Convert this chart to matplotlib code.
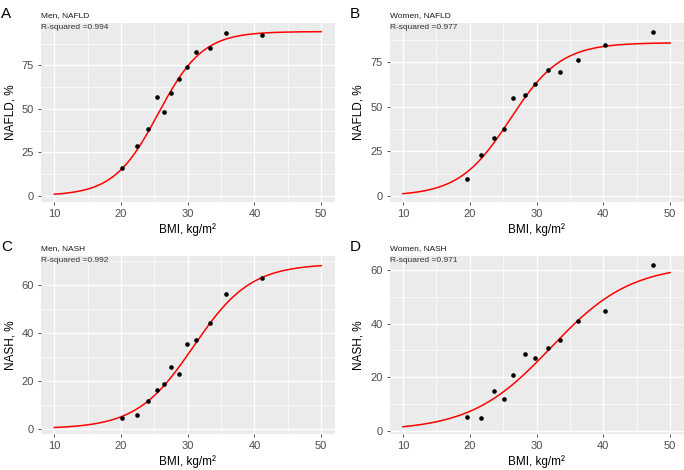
"""
Four-panel BMI vs NAFLD / NASH prevalence figure with logistic fit curves,
ggplot-grey style, laid out on a 684x470 px canvas.
"""

import matplotlib
matplotlib.use("Agg")
import matplotlib.pyplot as plt
import numpy as np

plt.rcParams["font.family"] = ["Liberation Sans", "DejaVu Sans"]

# --- data -------------------------------------------------------------------
men_bmi = [20.2, 22.45, 24.05, 25.4, 26.45, 27.55, 28.7, 29.85, 31.3, 33.35, 35.8, 41.1]
women_bmi = [19.55, 21.75, 23.65, 25.15, 26.55, 28.25, 29.85, 31.7, 33.55, 36.15, 40.2, 47.4]

men_nafld = [15.7, 28.6, 38.4, 56.6, 48.1, 59.3, 67.1, 73.9, 82.5, 85.2, 93.6, 92.3]
women_nafld = [9.7, 22.9, 32.5, 37.5, 54.9, 56.5, 62.7, 70.5, 69.2, 75.9, 84.7, 92.0]
men_nash = [4.6, 5.6, 11.6, 16.3, 18.8, 25.8, 22.9, 35.4, 37.3, 44.2, 56.2, 63.2]
women_nash = [5.0, 4.9, 14.9, 12.0, 20.8, 28.6, 27.3, 31.0, 33.7, 41.1, 44.6, 62.0]

# fitted logistic parameters (asymptote, midpoint, scale)
fit_men_nafld = [94.4, 25.57, 3.34]
fit_women_nafld = [85.8, 26.04, 3.81]
fit_men_nash = [69.0, 30.88, 4.27]
fit_women_nash = [62.0, 32.14, 5.99]

panels = [
    # letter, subtitle, r2, x, y, fit, ylabel, yticks, yminor, ylim, rect(px: l, t, r, b)
    ("A", "Men, NAFLD", "0.994", men_bmi, men_nafld, fit_men_nafld, "NAFLD, %",
     [0, 25, 50, 75], [12.5, 37.5, 62.5, 87.5], (-3.6, 99.5), (41, 22.7, 334.5, 202)),
    ("B", "Women, NAFLD", "0.977", women_bmi, women_nafld, fit_women_nafld, "NAFLD, %",
     [0, 25, 50, 75], [12.5, 37.5, 62.5, 87.5], (-3.4, 97.0), (389.5, 22.7, 683.5, 202)),
    ("C", "Men, NASH", "0.992", men_bmi, men_nash, fit_men_nash, "NASH, %",
     [0, 20, 40, 60], [10, 30, 50, 70], (-2.2, 72.4), (41, 255.7, 334.5, 434)),
    ("D", "Women, NASH", "0.971", women_bmi, women_nash, fit_women_nash, "NASH, %",
     [0, 20, 40, 60], [10, 30, 50], (-1.2, 65.3), (389.5, 255.7, 683.5, 434)),
]

W, H = 684, 470
fig = plt.figure(figsize=(W / 100, H / 100), dpi=100)

xfit = np.linspace(10, 50, 300)

for letter, sub, r2, xs, ys, fit, ylab, yt, ymin, ylim, (l, t, r, b) in panels:
    ax = fig.add_axes([l / W, 1 - b / H, (r - l) / W, (b - t) / H])
    ax.set_facecolor("#EBEBEB")
    for s in ax.spines.values():
        s.set_visible(False)

    ax.set_xlim(8, 52)
    ax.set_ylim(*ylim)
    ax.set_xticks([10, 20, 30, 40, 50])
    ax.set_xticks([15, 25, 35, 45], minor=True)
    ax.set_yticks(yt)
    ax.set_yticks(ymin, minor=True)
    ax.grid(which="major", color="white", lw=1.0)
    ax.grid(which="minor", color="white", lw=0.5)
    ax.set_axisbelow(True)
    ax.tick_params(which="major", length=2.5, width=0.6, color="#333333",
                   labelcolor="#4D4D4D", labelsize=8, pad=2.5)
    ax.tick_params(which="minor", length=0)

    top, mid, scale = fit
    ax.plot(xfit, top / (1 + np.exp(-(xfit - mid) / scale)), color="#FF0000", lw=1.1, zorder=2)
    ax.scatter(xs, ys, s=11, color="black", zorder=3, linewidths=0)

    ax.set_xlabel("BMI, kg/m²", fontsize=8.5, labelpad=3)
    ax.set_ylabel(ylab, fontsize=8.5, labelpad=4)

    ax.text(0.0, 1.0 - 1.5 / (b - t), "R-squared =" + r2, transform=ax.transAxes,
            ha="left", va="top", fontsize=6, color="#333333")
    ax.text(0.0, 1.0 + 7.5 / (b - t), sub, transform=ax.transAxes, ha="left", va="center",
            fontsize=6, color="#1A1A1A")
    fig.text((l - 41) / W + 1 / W, 1 - (t - 16) / H, letter, ha="left", va="top",
             fontsize=11, color="black")

fig.savefig("out.png", dpi=100)
